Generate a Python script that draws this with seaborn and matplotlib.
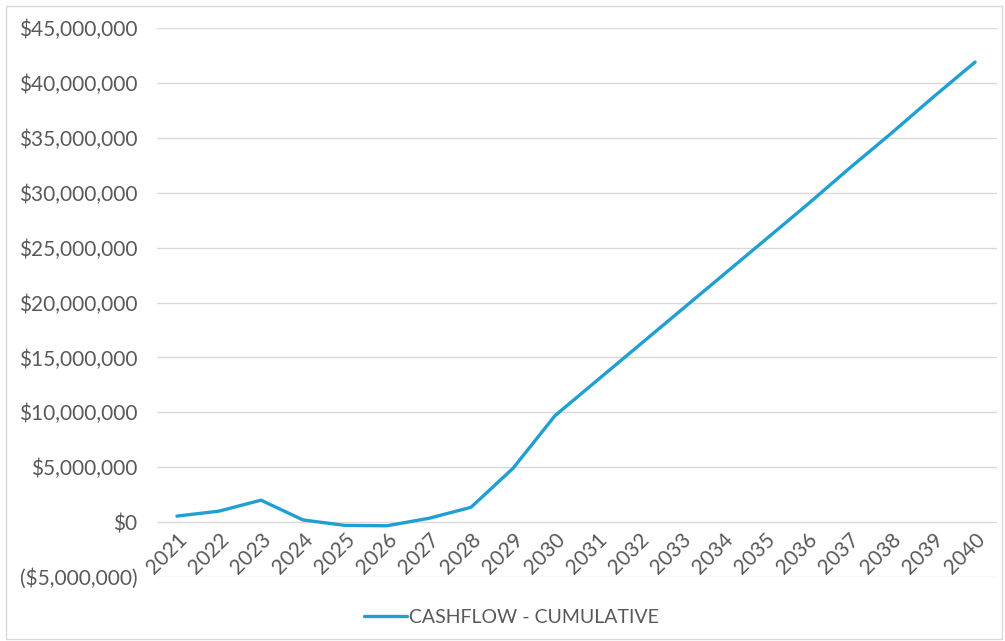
import matplotlib
matplotlib.use("Agg")
import matplotlib.pyplot as plt
import matplotlib.ticker as mticker
import seaborn as sns
import pandas as pd

years = [str(y) for y in range(2021, 2041)]
cumulative_cashflow = [
    550_000, 1_000_000, 2_000_000, 200_000, -300_000, -330_000, 350_000,
    1_350_000, 4_900_000, 9_700_000, 12_900_000, 16_100_000, 19_300_000,
    22_500_000, 25_700_000, 28_900_000, 32_200_000, 35_400_000,
    38_700_000, 41_900_000,
]
series_name = "CASHFLOW - CUMULATIVE"

df = pd.DataFrame({"year": years, "value": cumulative_cashflow})
df["pos"] = range(len(years))

sns.set_style("white")
plt.rcParams["font.family"] = ["Lato", "DejaVu Sans"]

text_color = "#595959"
line_color = "#1f9fd3"
grid_color = "#d9d9d9"

fig = plt.figure(figsize=(10.05, 6.41), dpi=100)
ax = fig.add_axes([0.156, 0.0998, 0.836, 0.8565])

sns.lineplot(data=df, x="pos", y="value", ax=ax, color=line_color,
             linewidth=2.4, label=series_name, legend=False)

ax.set_ylim(-5_000_000, 45_000_000)
ax.set_xlim(-0.48, len(years) - 0.48)
ax.yaxis.set_major_locator(mticker.MultipleLocator(5_000_000))


def money(v, _):
    v = int(round(v))
    if v < 0:
        return "(${:,})".format(-v)
    return "${:,}".format(v)


ax.yaxis.set_major_formatter(mticker.FuncFormatter(money))
ax.xaxis.set_major_locator(mticker.FixedLocator(list(df["pos"])))
ax.xaxis.set_major_formatter(mticker.FixedFormatter(years))

ax.grid(axis="y", color=grid_color, linewidth=1.0)
ax.set_axisbelow(True)
for s in ["left", "right", "top"]:
    ax.spines[s].set_visible(False)
ax.spines["bottom"].set_position(("data", 0))
ax.spines["bottom"].set_visible(False)

ax.tick_params(axis="y", length=0, pad=14, labelsize=15, labelcolor=text_color)
ax.tick_params(axis="x", length=0, pad=5, labelsize=15, labelcolor=text_color,
               labelrotation=45)
ax.set_xlabel("")
ax.set_ylabel("")

handles, labels = ax.get_legend_handles_labels()
fig.legend(handles, labels, loc="center", bbox_to_anchor=(0.509, 0.0374),
           frameon=False, fontsize=14, labelcolor=text_color,
           handlelength=2.2, handletextpad=0.1)

# thin frame around the whole chart
fig.patches.append(plt.Rectangle((0.006, 0.003), 0.991, 0.988,
                                 transform=fig.transFigure, fill=False,
                                 edgecolor="#d9d9d9", linewidth=1.0))

fig.canvas.draw()
for lbl in ax.get_xticklabels():
    lbl.set_horizontalalignment("right")
    lbl.set_rotation_mode("anchor")

fig.savefig("out.png", dpi=100, facecolor="white")
